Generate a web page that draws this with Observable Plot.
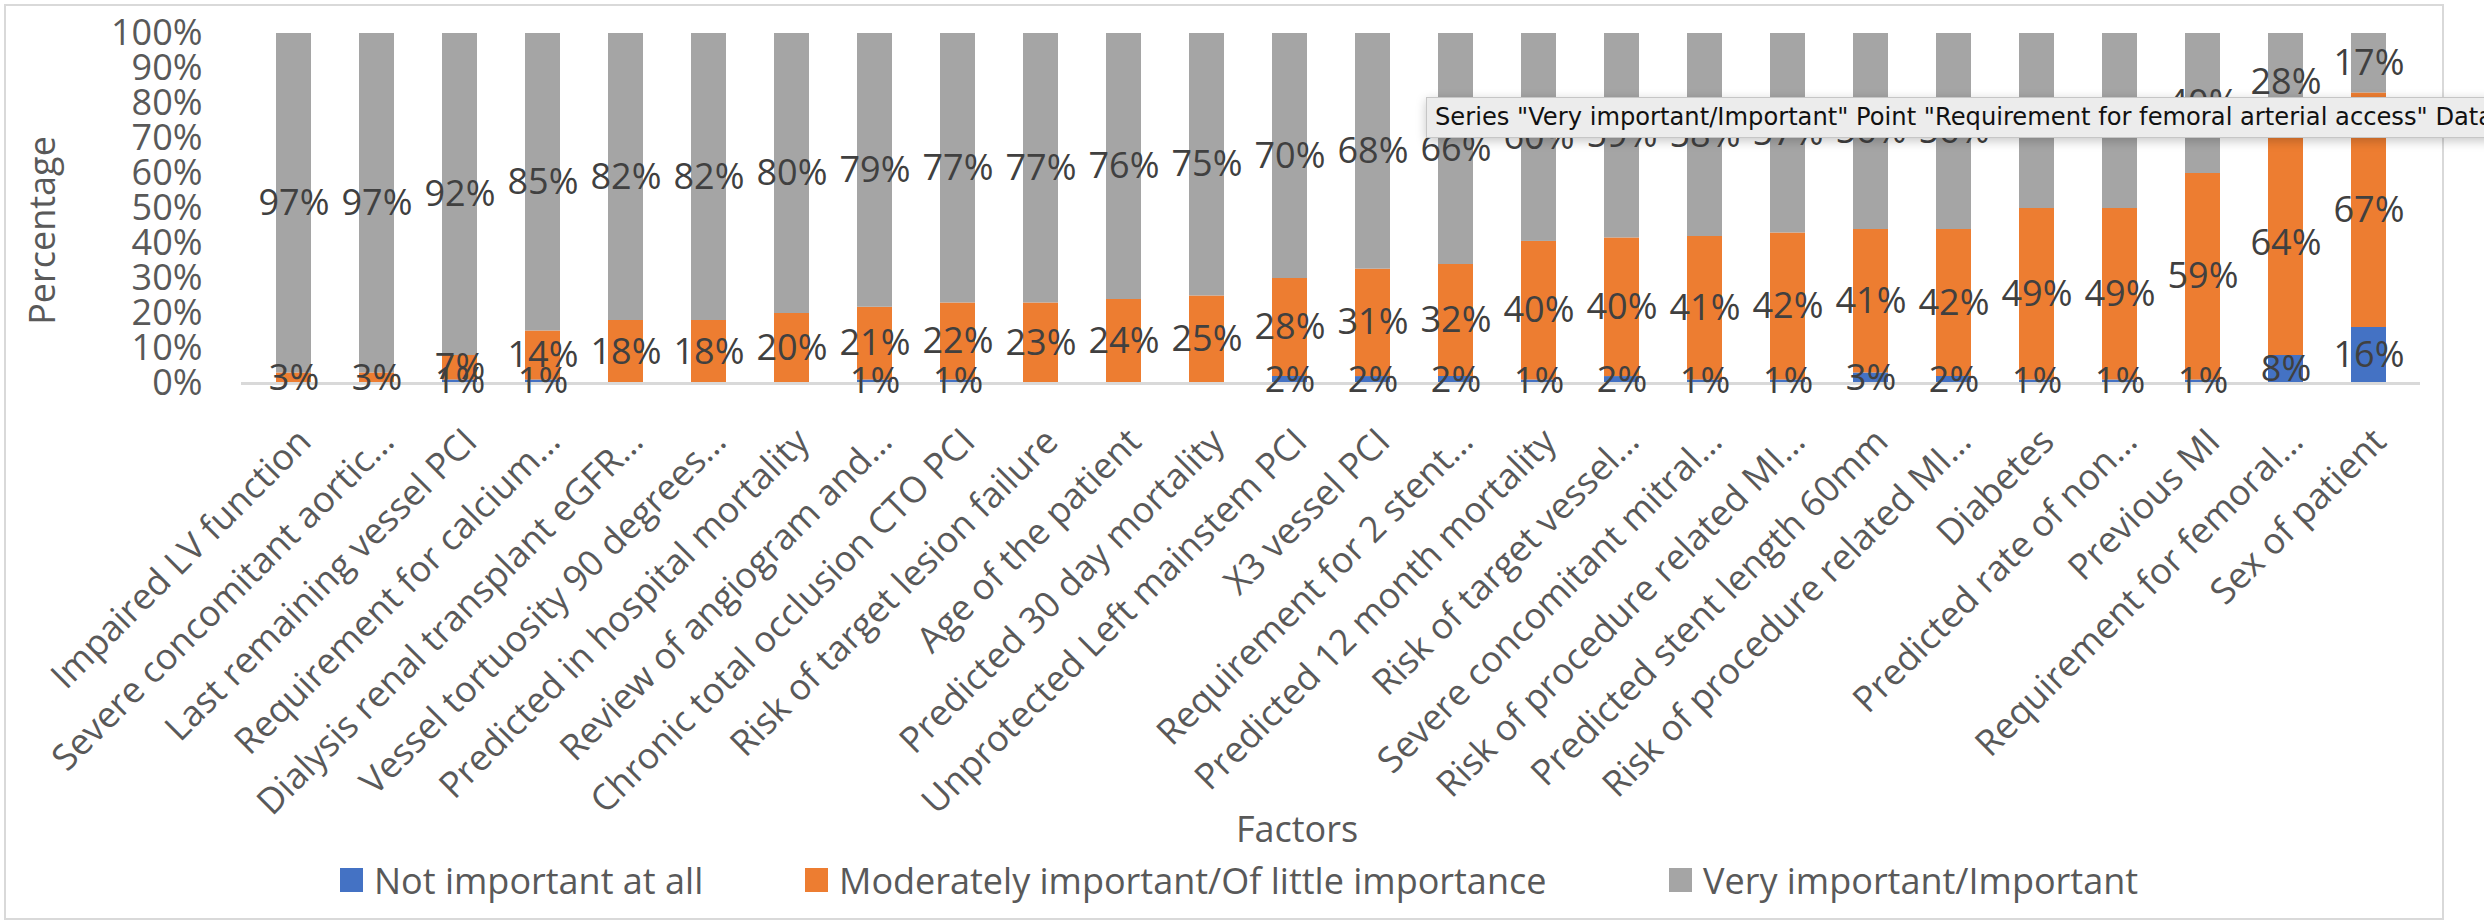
<!DOCTYPE html>
<html>
<head>
<meta charset="utf-8">
<script src="https://cdn.jsdelivr.net/npm/d3@7"></script>
<script src="https://cdn.jsdelivr.net/npm/@observablehq/plot@0.6"></script>
<style>
  html, body { margin: 0; padding: 0; background: #fff; overflow: hidden; }
  #chart { position: relative; width: 2484px; height: 923px; font-family: "Open Sans", sans-serif; }
  #chart svg { display: block; }
  #frame { position: absolute; left: 4px; top: 4px; width: 2440px; height: 916px; box-sizing: border-box;
           border: 2.5px solid #d9d9d9; pointer-events: none; }
  #legend { position: relative; width: 2484px; height: 73px; }
  .item { position: absolute; top: 10px; height: 40px; display: flex; align-items: center; gap: 11px;
          font-size: 36px; color: #595959; white-space: nowrap; }
  .swatch { width: 23px; height: 24px; }
  #tip { position: absolute; left: 1426px; top: 97px; width: 1100px; height: 41px; box-sizing: border-box;
         background: #ececec; border: 1px solid #c6c6c6; box-shadow: 0 3px 10px rgba(0,0,0,0.22);
         font-family: "DejaVu Sans", sans-serif; font-size: 24.2px; color: #111; padding-left: 8px;
         line-height: 39px; white-space: nowrap; overflow: hidden; z-index: 2; }
</style>
</head>
<body>
<div id="chart"></div>
<script>
// Survey factors (x axis), in the order shown
const factors = [
  "Impaired LV function",
  "Severe concomitant aortic…",
  "Last remaining vessel PCI",
  "Requirement for calcium…",
  "Dialysis renal transplant eGFR…",
  "Vessel tortuosity 90 degrees…",
  "Predicted in hospital mortality",
  "Review of angiogram and…",
  "Chronic total occlusion CTO PCI",
  "Risk of target lesion failure",
  "Age of the patient",
  "Predicted 30 day mortality",
  "Unprotected Left mainstem PCI",
  "X3 vessel PCI",
  "Requirement for 2 stent…",
  "Predicted 12 month mortality",
  "Risk of target vessel…",
  "Severe concomitant mitral…",
  "Risk of procedure related MI…",
  "Predicted stent length 60mm",
  "Risk of procedure related MI…",
  "Diabetes",
  "Predicted rate of non…",
  "Previous MI",
  "Requirement for femoral…",
  "Sex of patient"
];

// Percent of respondents per answer
const notImportant        = [0, 0, 1, 1, 0, 0, 0, 1, 1, 0, 0, 0, 2, 2, 2, 1, 2, 1, 1, 3, 2, 1, 1, 1, 8, 16];
const moderatelyImportant = [3, 3, 7, 14, 18, 18, 20, 21, 22, 23, 24, 25, 28, 31, 32, 40, 40, 41, 42, 41, 42, 49, 49, 59, 64, 67];
const veryImportant       = [97, 97, 92, 85, 82, 82, 80, 79, 77, 77, 76, 75, 70, 68, 66, 60, 59, 58, 57, 56, 56, 50, 50, 40, 28, 17];

const seriesNames  = ["Not important at all", "Moderately important/Of little importance", "Very important/Important"];
const seriesColors = ["#4472C4", "#ED7D31", "#A5A5A5"];
const yTicks = [0, 0.1, 0.2, 0.3, 0.4, 0.5, 0.6, 0.7, 0.8, 0.9, 1];

const seriesValues = [notImportant, moderatelyImportant, veryImportant];
const rows = factors.flatMap((f, i) =>
  seriesNames.map((s, k) => ({i, factor: f, series: s, value: seriesValues[k][i]}))
);

const textColor = "#595959";

const chart = Plot.plot({
  width: 2484,
  height: 850,
  marginLeft: 241,
  marginRight: 64,
  marginTop: 33,
  marginBottom: 467,
  style: {fontFamily: "'Open Sans', sans-serif", fontSize: "36px", background: "transparent", overflow: "visible"},
  x: {type: "band", domain: d3.range(factors.length), paddingInner: 0.58, paddingOuter: 0.29, label: null},
  y: {domain: [0, 1], label: null},
  color: {domain: seriesNames, range: seriesColors},
  marks: [
    // 100% stacked columns
    Plot.barY(rows, Plot.stackY({x: "i", y: "value", fill: "series", order: seriesNames, offset: "normalize"})),
    Plot.ruleY([0], {stroke: "#d9d9d9", strokeWidth: 3}),
    // value labels centred in each segment
    Plot.text(rows.filter(d => d.value > 0), Plot.stackY({
      x: "i", y: "value", z: "series", order: seriesNames, offset: "normalize",
      text: d => d.value + "%", fill: "#404040", fontSize: 36
    })),
    Plot.axisY({ticks: yTicks, tickFormat: d3.format(".0%"), tickSize: 0, tickPadding: 39,
                label: null, fill: textColor, fontSize: 36}),
    Plot.axisX({tickFormat: i => factors[i], tickRotate: -45, tickSize: 0, tickPadding: 52, dx: 11,
                textAnchor: "end", lineAnchor: "middle", label: null, fill: textColor, fontSize: 36}),
    // axis titles
    Plot.text(["Percentage"], {frameAnchor: "left", textAnchor: "middle", lineAnchor: "middle", rotate: -90,
                               dx: -198, dy: 22, fill: textColor, fontSize: 36}),
    Plot.text(["Factors"], {frameAnchor: "bottom", textAnchor: "middle", lineAnchor: "middle",
                            dx: -34, dy: 447, fill: textColor, fontSize: 36})
  ]
});

const root = document.getElementById("chart");
root.appendChild(chart);

// legend below the plot
const legend = document.createElement("div");
legend.id = "legend";
const legendLefts = [340, 805, 1669];
seriesNames.forEach((name, k) => {
  const item = document.createElement("div");
  item.className = "item";
  item.style.left = legendLefts[k] + "px";
  const sw = document.createElement("div");
  sw.className = "swatch";
  sw.style.background = seriesColors[k];
  const label = document.createElement("span");
  label.textContent = name;
  item.appendChild(sw);
  item.appendChild(label);
  legend.appendChild(item);
});
root.appendChild(legend);

// outer chart border
const frame = document.createElement("div");
frame.id = "frame";
root.appendChild(frame);

// hover tooltip on the femoral access column
const tip = document.createElement("div");
tip.id = "tip";
tip.textContent = 'Series "Very important/Important" Point "Requirement for femoral arterial access" Data Label';
root.appendChild(tip);
</script>
</body>
</html>
